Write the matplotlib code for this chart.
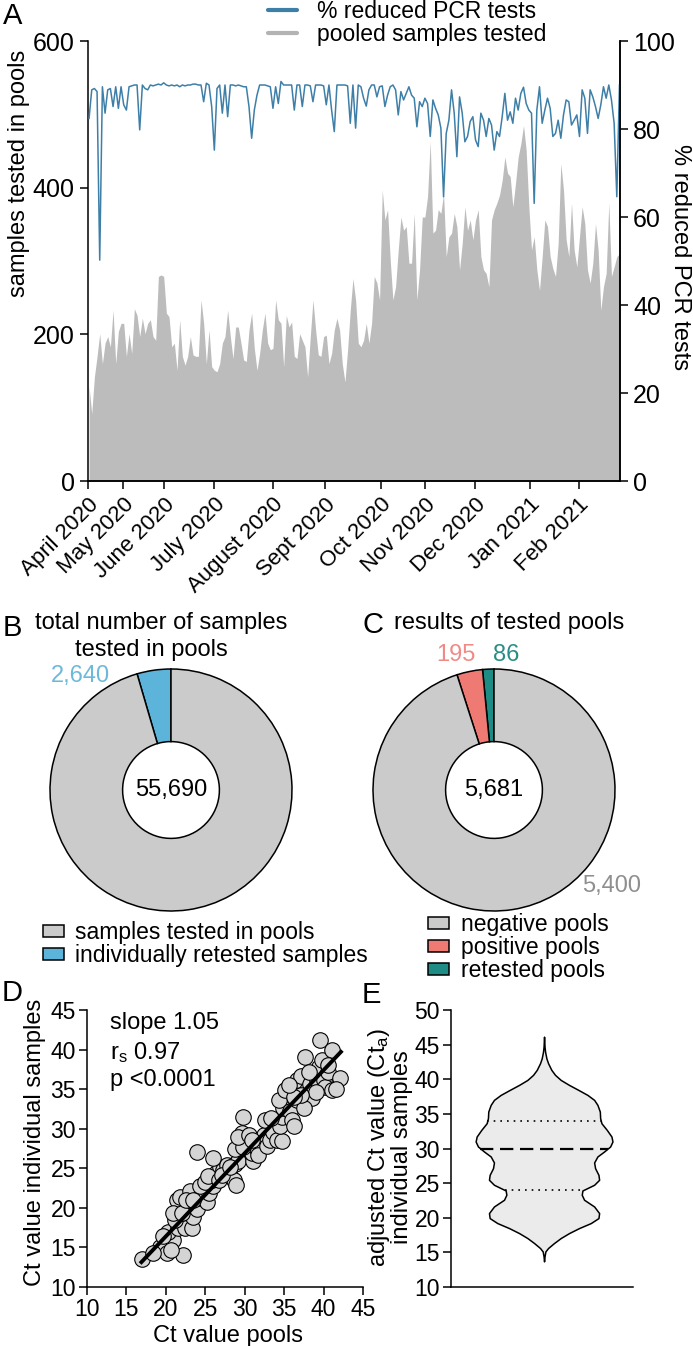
import numpy as np
import matplotlib
matplotlib.use("Agg")
import matplotlib.pyplot as plt
from matplotlib.lines import Line2D

# ---- panel A: daily pooled testing (one value per testing day) ----
pooled_samples = [
    129, 92, 142, 170, 201, 160, 188, 197, 183, 233,
    160, 204, 215, 215, 170, 201, 174, 235, 226, 197,
    222, 201, 215, 220, 197, 192, 279, 281, 279, 229,
    224, 183, 188, 151, 220, 170, 158, 170, 197, 172,
    170, 170, 247, 215, 160, 206, 156, 151, 149, 160,
    188,
    197, 233, 197, 167, 210, 210, 188, 165, 163, 206,
    229, 181, 151, 174, 206, 229, 188, 179, 181, 247,
    220, 215, 156, 226, 210, 217, 170, 167, 201, 192,
    183, 142, 197, 247, 206, 172, 170, 197, 199, 160,
    174, 206, 222, 206, 160, 135, 179, 233, 276, 247,
    188,
    183, 192, 215, 188, 215, 279, 270, 247, 397, 356,
    370, 301, 247, 265, 315, 360, 342, 347, 297, 297,
    365, 247, 288, 360, 360, 388, 463, 338, 342, 370,
    365, 392, 306, 333, 338, 365, 347, 288, 324, 374,
    342, 356, 329, 356, 370, 306, 288, 283, 265, 356,
    370, 379, 390, 410, 442, 420, 415, 374, 406, 442,
    460, 485, 451, 374, 315, 333, 288, 260, 306, 356,
    347, 306, 290, 279, 324, 433, 397, 329, 306, 379,
    315, 292, 333, 374, 351, 288, 270, 297, 351, 315,
    233, 265, 283, 379, 279, 292, 306, 310,
]

reduced_pct = [
    82.4, 88.9, 89.2, 88.5, 50.2, 89.6, 83.6, 88.9, 89.2, 85.1,
    89.6, 84.7, 89.6, 85.5, 84.3, 89.6, 89.8, 90.0, 90.0, 79.8,
    90.0, 89.2, 88.9, 90.0, 89.8, 90.0, 90.2, 90.0, 90.5, 90.0,
    89.8, 90.0, 89.8, 90.0, 89.6, 90.0, 89.8, 90.0, 90.0, 90.2,
    90.2, 90.0, 90.0, 86.2, 90.4, 90.0, 85.1, 75.2, 89.2, 90.0,
    83.6,
    90.0, 82.8, 90.0, 90.0, 89.8, 90.0, 89.8, 89.6, 89.6, 85.1,
    77.9, 84.3, 87.7, 90.0, 90.0, 90.0, 89.8, 89.6, 84.7, 89.6,
    85.8, 90.8, 90.0, 90.0, 90.0, 90.0, 84.3, 90.0, 90.0, 85.1,
    90.0, 90.0, 89.8, 86.2, 90.0, 90.0, 90.0, 89.8, 85.5, 90.0,
    84.3, 79.4, 90.0, 90.0, 90.0, 90.0, 89.8, 81.3, 90.0, 80.2,
    90.0,
    89.6, 87.0, 85.2, 88.9, 90.0, 90.0, 87.3, 89.6, 89.8, 85.1,
    87.7, 89.6, 90.0, 88.9, 83.2, 88.5, 86.6, 88.1, 89.6, 87.7,
    87.0, 80.5, 86.2, 85.1, 87.0, 85.8, 78.3, 86.6, 84.7, 83.2,
    80.2, 64.6, 79.0, 82.0, 88.9, 83.6, 73.7, 87.3, 83.6, 77.1,
    78.3, 81.7, 82.8, 77.5, 76.0, 83.6, 82.0, 78.3, 82.4, 80.9,
    75.2, 79.4, 78.3, 82.8, 88.1, 82.0, 83.9, 81.3, 87.0, 84.3,
    88.1, 89.5, 85.8, 84.3, 83.6, 63.1, 84.3, 89.6, 81.3, 84.3,
    87.0, 84.7, 78.3, 79.0, 82.0, 77.9, 83.2, 86.6, 86.2, 80.9,
    82.0, 83.2, 78.3, 88.9, 87.0, 79.0, 88.9, 87.3, 85.1, 82.4,
    85.5, 89.6, 87.0, 90.0, 86.6, 81.3, 64.6, 90.0,
]

month_labels = ["April 2020", "May 2020", "June 2020", "July 2020",
                "August 2020", "Sept 2020", "Oct 2020", "Nov 2020",
                "Dec 2020", "Jan 2021", "Feb 2021"]
month_pos = [-0.4, 12.7, 28.1, 46.9, 69.0, 88.5, 109.5, 126.0, 144.7, 165.4, 183.7]

# ---- panels B and C ----
b_labels = ["samples tested in pools", "individually retested samples"]
b_values = [55690, 2640]
c_labels = ["negative pools", "positive pools", "retested pools"]
c_values = [5400, 195, 86]

# ---- panel D: Ct values ----
ct_pool = [17.0, 19.2, 20.1, 20.9, 20.3, 22.2, 21.6, 22.0, 22.6, 22.1, 21.4, 21.8,
           23.0, 22.4, 23.3, 23.4, 23.9, 24.2, 24.7, 25.2, 25.5, 26.0, 25.8, 26.4,
           26.9, 27.3, 27.7, 28.1, 28.6, 28.8, 29.2, 28.9, 23.9, 26.0, 29.8, 29.7,
           29.4, 30.5, 31.1, 30.9, 31.5, 32.0, 32.4, 32.6, 31.7, 32.8, 33.2, 33.6,
           34.1, 34.7, 34.5, 34.7, 34.9, 34.4, 35.1, 35.8, 36.0, 36.2, 36.6, 36.6,
           37.2, 37.7, 37.9, 38.3, 38.5, 37.5, 39.2, 39.4, 39.6, 39.8, 40.0, 40.2,
           40.6, 41.1, 41.1, 42.1, 39.1, 37.2, 36.2, 24.3, 25.0, 25.4, 26.7, 27.1,
           28.1, 28.8, 29.8, 29.2, 30.5, 30.9, 19.7, 20.6, 18.4, 21.1, 20.9, 22.0,
           22.6, 23.4, 33.3, 35.6, 38.1, 40.5, 41.6]
ct_indiv = [13.5, 15.1, 14.3, 16.0, 17.0, 14.1, 17.4, 18.5, 19.3, 20.2, 21.0, 21.4,
            22.1, 17.4, 17.4, 18.9, 19.8, 21.2, 21.9, 20.8, 21.9, 22.7, 23.5, 24.4,
            25.2, 24.8, 25.4, 24.0, 23.5, 25.6, 25.9, 22.9, 27.1, 26.3, 31.5, 29.4,
            27.5, 27.3, 25.9, 26.9, 27.5, 28.2, 29.2, 31.1, 26.7, 27.8, 28.6, 29.6,
            28.6, 28.4, 30.3, 31.5, 32.6, 33.6, 34.9, 32.2, 31.1, 30.3, 33.6, 36.2,
            36.6, 39.1, 34.9, 35.7, 33.9, 32.6, 36.2, 37.8, 41.2, 38.7, 36.2, 35.3,
            37.2, 40.0, 34.9, 36.4, 34.7, 34.3, 34.0, 22.7, 23.3, 24.0, 23.5, 24.2,
            25.2, 27.5, 27.7, 29.0, 29.2, 28.6, 16.4, 14.7, 14.3, 18.5, 19.3, 19.3,
            21.0, 21.0, 31.3, 35.5, 37.2, 38.0, 35.0]
fit_slope = 1.05
fit_intercept = -4.6
fit_range = [16.9, 42.2]

# ---- panel E: violin outline (Ct level, relative density) ----
violin_ct = [46.15, 44.71, 43.99, 43.03, 42.31, 41.35, 40.63, 39.90, 39.18, 38.46,
             37.74, 37.02, 36.30, 35.34, 34.38, 33.65, 32.69, 31.73, 31.01, 30.29,
             29.57, 28.85, 27.98, 27.16, 26.20, 25.48, 24.76, 23.94, 23.32, 22.60,
             21.63, 20.67, 19.95, 19.23, 18.51, 17.79, 17.07, 16.35, 15.63, 15.14,
             14.42, 13.70]
violin_density = [0.0, 0.007, 0.015, 0.034, 0.059, 0.107, 0.161, 0.244, 0.366, 0.502,
                  0.634, 0.732, 0.780, 0.815, 0.820, 0.839, 0.917, 0.985, 1.0, 0.966,
                  0.878, 0.780, 0.732, 0.746, 0.795, 0.805, 0.732, 0.561, 0.551, 0.585,
                  0.732, 0.805, 0.795, 0.683, 0.512, 0.366, 0.244, 0.146, 0.059, 0.020,
                  0.007, 0.0]
ct_quartiles = [24.0, 30.0, 34.0]

# ---------------------------------------------------------------
plt.rcParams["font.family"] = ["Liberation Sans", "DejaVu Sans"]
plt.rcParams["mathtext.fontset"] = "custom"
plt.rcParams["mathtext.rm"] = "Liberation Sans"
plt.rcParams["mathtext.it"] = "Liberation Sans:italic"
plt.rcParams["axes.linewidth"] = 1.1
plt.rcParams["xtick.major.width"] = 1.1
plt.rcParams["ytick.major.width"] = 1.1
plt.rcParams["xtick.major.size"] = 5
plt.rcParams["ytick.major.size"] = 5

W, H = 693, 1346


def box(left, top, right, bottom):
    return [left / W, 1 - bottom / H, (right - left) / W, (bottom - top) / H]


GRAY_AREA = "#bcbcbc"
BLUE = "#3e7fa8"
DONUT_GRAY = "#cbcbcb"
LIGHT_BLUE = "#5cb4da"
SALMON = "#ef7a74"
TEAL = "#1d8c84"
LETTER = 21

fig = plt.figure(figsize=(W / 100, H / 100), dpi=100)

# ================= A =================
x = np.arange(len(pooled_samples))
axA = fig.add_axes(box(88, 41, 620, 481))
axA.fill_between(x, 0, pooled_samples, color=GRAY_AREA, lw=0)
axA.set_xlim(-0.4, 199.2)
axA.set_ylim(0, 600)
axA.set_yticks([0, 200, 400, 600])
axA.spines["top"].set_visible(False)
axA.tick_params(axis="y", labelsize=18, length=6)
axA.tick_params(axis="x", length=6)
axA.set_xticks(month_pos)
axA.set_xticklabels(month_labels, rotation=45, ha="right", va="top",
                    rotation_mode="anchor", fontsize=16)
axA.set_ylabel("samples tested in pools", fontsize=17, va="center")
axA.yaxis.set_label_coords(-0.13, 0.70)

axR = axA.twinx()
axR.plot(x, reduced_pct, color=BLUE, lw=1.1)
axR.set_ylim(0, 100)
axR.set_yticks(range(0, 101, 20))
axR.spines["top"].set_visible(False)
axR.spines["left"].set_visible(False)
axR.tick_params(axis="y", labelsize=18, length=6)
axR.set_ylabel("% reduced PCR tests", fontsize=17, rotation=270, va="center")
axR.yaxis.set_label_coords(1.113, 0.51)

handlesA = [Line2D([], [], color=BLUE, lw=3, solid_capstyle="round"),
            Line2D([], [], color="#b3b3b3", lw=3, solid_capstyle="round")]
fig.legend(handlesA, ["% reduced PCR tests", "pooled samples tested"],
           loc="upper left", bbox_to_anchor=(268 / W, 1.0), frameon=False,
           fontsize=16.5, handlelength=1.25, handletextpad=0.9,
           labelspacing=0.0, borderpad=0, borderaxespad=0)
fig.text(13 / W, 1 - 16 / H, "A", fontsize=LETTER, ha="center", va="center")

# ================= B =================
axB = fig.add_axes(box(50, 669, 292, 911))
wB, _ = axB.pie(b_values[::-1], colors=[LIGHT_BLUE, DONUT_GRAY], startangle=90,
                counterclock=True, radius=1,
                wedgeprops=dict(width=0.6, edgecolor="black", linewidth=1.1))
for w in wB:
    w.set_clip_on(False)
axB.set_xlim(-1, 1)
axB.set_ylim(-1, 1)
axB.text(0, 0, "55,690", ha="center", va="center", fontsize=17)
fig.text(12 / W, 1 - 628 / H, "B", fontsize=LETTER, ha="center", va="center")
fig.text(161 / W, 1 - 623 / H, "total number of samples", fontsize=17,
         ha="center", va="center")
fig.text(151 / W, 1 - 650 / H, "tested in pools", fontsize=17,
         ha="center", va="center")
fig.text(80 / W, 1 - 676 / H, f"{b_values[1]:,}", color="#6db9d9",
         fontsize=17, ha="center", va="center")
fig.legend([wB[1], wB[0]], b_labels, loc="upper left",
           bbox_to_anchor=(43 / W, 1 - 921 / H), frameon=False, fontsize=16.5,
           handlelength=0.9, handleheight=0.45, handletextpad=0.5,
           labelspacing=0.0, borderpad=0, borderaxespad=0)

# ================= C =================
axC = fig.add_axes(box(373, 669, 615, 911))
wC, _ = axC.pie(c_values[::-1], colors=[TEAL, SALMON, DONUT_GRAY], startangle=90,
                counterclock=True, radius=1,
                wedgeprops=dict(width=0.6, edgecolor="black", linewidth=1.1))
for w in wC:
    w.set_clip_on(False)
axC.set_xlim(-1, 1)
axC.set_ylim(-1, 1)
axC.text(0, 0, f"{sum(c_values):,}", ha="center", va="center", fontsize=17)
fig.text(373 / W, 1 - 625 / H, "C", fontsize=LETTER, ha="center", va="center")
fig.text(394 / W, 1 - 623 / H, "results of tested pools", fontsize=17,
         ha="left", va="center")
fig.text(456 / W, 1 - 655 / H, f"{c_values[1]}", color="#f08a86",
         fontsize=17, ha="center", va="center")
fig.text(506 / W, 1 - 655 / H, f"{c_values[2]}", color="#2a8c86",
         fontsize=17, ha="center", va="center")
fig.text(612 / W, 1 - 886 / H, f"{c_values[0]:,}", color="#8f8f8f",
         fontsize=17, ha="center", va="center")
fig.legend([wC[2], wC[1], wC[0]], c_labels, loc="upper left",
           bbox_to_anchor=(428 / W, 1 - 913 / H), frameon=False, fontsize=16.5,
           handlelength=0.9, handleheight=0.45, handletextpad=0.55,
           labelspacing=0.0, borderpad=0, borderaxespad=0)

# ================= D =================
axD = fig.add_axes(box(87, 1010, 363, 1287))
axD.scatter(ct_pool, ct_indiv, s=125, facecolor="#d4d4d4", edgecolor="black",
            linewidth=0.8, zorder=2, clip_on=False)
fx = np.array(fit_range)
axD.plot(fx, fit_slope * fx + fit_intercept, color="black", lw=2.8, zorder=3)
axD.set_xlim(10, 45)
axD.set_ylim(10, 45)
axD.set_xticks(range(10, 46, 5))
axD.set_yticks(range(10, 46, 5))
axD.spines["top"].set_visible(False)
axD.spines["right"].set_visible(False)
axD.tick_params(labelsize=16.5, length=6, pad=2)
axD.set_xlabel("Ct value pools", fontsize=17)
axD.xaxis.set_label_coords(0.51, -0.137)
axD.set_ylabel("Ct value individual samples", fontsize=17, va="center")
axD.yaxis.set_label_coords(-0.188, 0.523)
axD.text(0.083, 0.953, f"slope {fit_slope:.2f}", transform=axD.transAxes,
         fontsize=17, va="center")
axD.text(0.083, 0.848, r"r$_\mathrm{s}$ 0.97", transform=axD.transAxes,
         fontsize=17, va="center")
axD.text(0.083, 0.747, "p <0.0001", transform=axD.transAxes,
         fontsize=17, va="center")
fig.text(12 / W, 1 - 993 / H, "D", fontsize=LETTER, ha="center", va="center")

# ================= E =================
axE = fig.add_axes(box(451, 1010, 633, 1287))
vy = np.array(violin_ct)
vw = np.array(violin_density)
axE.fill_betweenx(vy, -vw, vw, facecolor="#ebebeb", edgecolor="black", lw=1.1)
q_w = np.interp(ct_quartiles, vy[::-1], vw[::-1])
axE.plot([-q_w[0], q_w[0]], [ct_quartiles[0]] * 2, color="black", lw=1.2,
         ls=(0, (1, 3)))
axE.plot([-q_w[1], q_w[1]], [ct_quartiles[1]] * 2, color="black", lw=1.6,
         ls=(0, (6, 3)))
axE.plot([-q_w[2], q_w[2]], [ct_quartiles[2]] * 2, color="black", lw=1.2,
         ls=(0, (1, 3)))
axE.set_xlim(-1.36, 1.30)
axE.set_ylim(10, 50)
axE.set_yticks(range(10, 51, 5))
axE.set_xticks([])
axE.spines["top"].set_visible(False)
axE.spines["right"].set_visible(False)
axE.tick_params(labelsize=16.5, length=6, pad=2)
axE.set_ylabel("adjusted Ct value (Ct$_\\mathrm{a}$)\nindividual samples",
               fontsize=17, va="center", linespacing=0.95)
axE.yaxis.set_label_coords(-0.34, 0.505)
fig.text(371 / W, 1 - 995 / H, "E", fontsize=LETTER, ha="center", va="center")

fig.savefig("out.png", dpi=100)
